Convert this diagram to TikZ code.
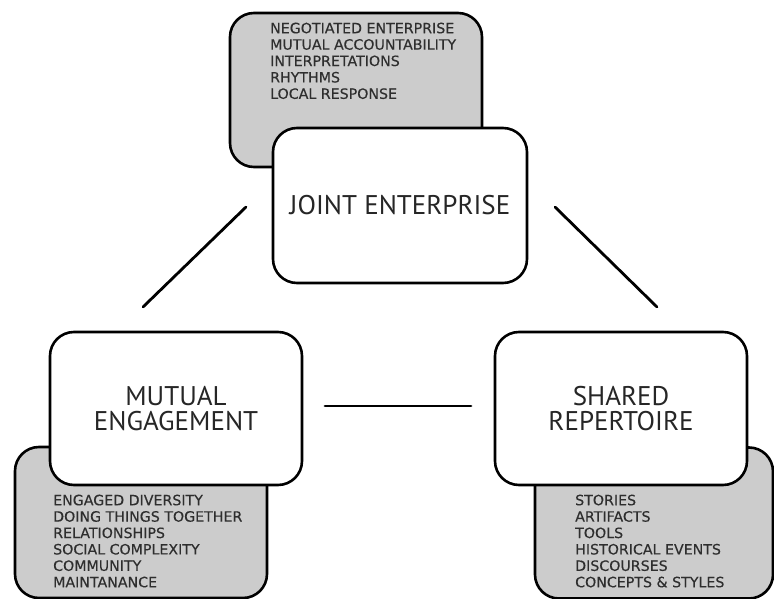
\documentclass[tikz,border=0pt]{standalone}
\usepackage{fontspec}
\setmainfont{PT Sans}
\newfontfamily\listfont[FakeBold=0.35]{DejaVu Sans}
\begin{document}
\begin{tikzpicture}[x=1pt,y=-1pt,
  card/.style={draw=black, line width=2.6pt, rounded corners=24pt, inner sep=0pt, outer sep=0pt},
  headcard/.style={card, fill=white, minimum width=252pt, minimum height=153pt,
    align=center, font=\fontsize{27}{25.5}\selectfont, text=black!85},
  notecard/.style={card, fill=black!20, minimum width=252pt, minimum height=153pt},
  notes/.style={anchor=north west, align=left, inner sep=0pt,
    font=\listfont\fontsize{14.2}{16.4}\selectfont, text=black!82},
  link/.style={draw=black, line width=2.8pt, line cap=round}]
\useasboundingbox (0,0) rectangle (774,599);

% grey note cards behind the headings
\node[notecard, minimum height=154pt] (jenotes) at (356,90) {};
\node[notecard, minimum height=151pt] (menotes) at (141,522.5) {};
\node[notecard, minimum width=238pt, minimum height=151pt] (srnotes) at (654,523) {};

% heading cards
\node[headcard, minimum width=254pt, minimum height=155pt] (je) at (400,205.5) {JOINT ENTERPRISE};
\node[headcard] (me) at (176,408.5) {MUTUAL\\ENGAGEMENT};
\node[headcard] (sr) at (621,408.5) {SHARED\\REPERTOIRE};

% note lists
\node[notes] (jelist) at (270,22.5) {NEGOTIATED ENTERPRISE\\MUTUAL ACCOUNTABILITY\\INTERPRETATIONS\\RHYTHMS\\LOCAL RESPONSE};
\node[notes] (melist) at (53,494.5) {ENGAGED DIVERSITY\\DOING THINGS TOGETHER\\RELATIONSHIPS\\SOCIAL COMPLEXITY\\COMMUNITY\\MAINTANANCE};
\node[notes] (srlist) at (575,494.5) {STORIES\\ARTIFACTS\\TOOLS\\HISTORICAL EVENTS\\DISCOURSES\\CONCEPTS \& STYLES};

% connectors between the three headings
\coordinate (jeL) at (246,207);
\coordinate (meT) at (143,307);
\coordinate (jeR) at (555,207);
\coordinate (srT) at (657,307);
\draw[link] (jeL) -- (meT);
\draw[link] (jeR) -- (srT);
\draw[link, shorten <=23pt, shorten >=24pt] (me.east |- 0,406) -- (sr.west |- 0,406);
\end{tikzpicture}
\end{document}
